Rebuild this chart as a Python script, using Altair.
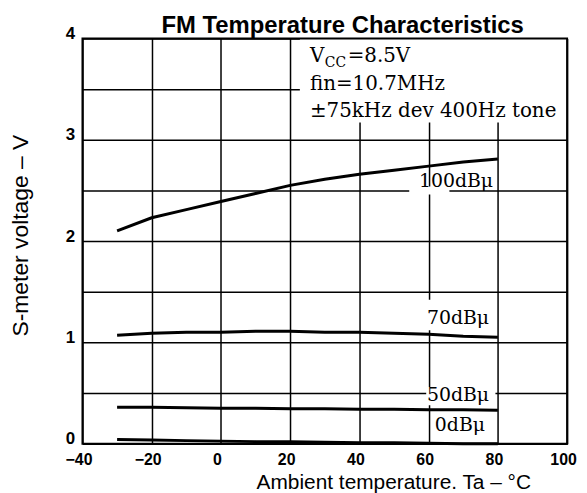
import altair as alt
import pandas as pd

# ---- data ----
temps = [-30, -20, -10, 0, 10, 20, 30, 40, 50, 60, 70, 80]
v_100 = [2.10, 2.23, 2.31, 2.39, 2.47, 2.55, 2.61, 2.66, 2.70, 2.74, 2.78, 2.81]
v_70 = [1.07, 1.09, 1.10, 1.10, 1.11, 1.11, 1.10, 1.10, 1.09, 1.08, 1.06, 1.05]
v_50 = [0.36, 0.36, 0.355, 0.35, 0.35, 0.345, 0.345, 0.34, 0.34, 0.335, 0.335, 0.33]
v_0 = [0.04, 0.035, 0.03, 0.025, 0.02, 0.02, 0.015, 0.01, 0.01, 0.005, 0.0, 0.0]

series_names = ["100dBμ", "70dBμ", "50dBμ", "0dBμ"]
label_x = [57.2, 59.5, 59.5, 61.8]
label_y = [2.53, 1.18, 0.42, 0.12]

x_ticks = [-40, -20, 0, 20, 40, 60, 80, 100]
y_grid = [0, 0.5, 1, 1.5, 2, 2.5, 3, 3.5, 4]

# white masks (areas where the scan shows no grid)
mask_x = [22.8, 54.4, 59.5, 59.3]
mask_x2 = [100, 66.0, 79.5, 79.3]
mask_y = [3.17, 2.46, 1.12, 0.38]
mask_y2 = [4.0, 2.54, 1.42, 0.56]

cond_x = 25.7
cond_y = [3.77, 3.49, 3.22]
cond_lines = ["=8.5V", "fin=10.7MHz", "±75kHz dev 400Hz tone"]

# ---- tables ----
rows = []
for name, vals in zip(series_names, [v_100, v_70, v_50, v_0]):
    for t, v in zip(temps, vals):
        rows.append({"series": name, "t": t, "v": v})
curves = pd.DataFrame(rows)
labels = pd.DataFrame({"text": series_names, "x": label_x, "y": label_y})
masks = pd.DataFrame({"x": mask_x, "x2": mask_x2, "y": mask_y, "y2": mask_y2})
border = pd.DataFrame({"x": [x_ticks[0]], "x2": [x_ticks[-1]], "y": [y_grid[0]], "y2": [y_grid[-1]]})
cond = pd.DataFrame({"x": [cond_x] * 3, "y": cond_y, "text": cond_lines})

xs = alt.Scale(domain=[-40, 100], nice=False, zero=False)
ys = alt.Scale(domain=[0, 4], nice=False, zero=False)

x_axis = alt.Axis(values=x_ticks, title="Ambient temperature. Ta – °C", grid=True,
                  gridColor="black", gridWidth=1.5, gridOpacity=1, ticks=False, domain=False,
                  labelFont="Liberation Sans", labelFontWeight="bold", labelFontSize=16,
                  labelColor="black", labelPadding=8, labelOffset=-4, labelFlush=False,
                  titleFont="Liberation Sans", titleFontWeight="normal", titleFontSize=21,
                  titleColor="black", titleX=313, titleY=45, titleBaseline="alphabetic")
y_axis = alt.Axis(values=y_grid, title="S-meter voltage – V", grid=True,
                  gridColor="black", gridWidth=1.5, gridOpacity=1, ticks=False, domain=False,
                  labelExpr="datum.value % 1 == 0 ? format(datum.value, 'd') : ''",
                  labelFont="Liberation Sans", labelFontWeight="bold", labelFontSize=17,
                  labelColor="black", labelPadding=8, labelOffset=-5, labelFlush=False,
                  titleFont="Liberation Sans", titleFontWeight="normal", titleFontSize=23,
                  titleColor="black", titleX=-62, titleY=198, titleBaseline="middle",
                  titleAngle=270, titleAlign="center")


def X(field):
    return alt.X(field, type="quantitative", scale=xs, axis=x_axis)


def Y(field):
    return alt.Y(field, type="quantitative", scale=ys, axis=y_axis)


SERIF = "DejaVu Serif"

mask_layer = alt.Chart(masks).mark_rect(fill="white", strokeWidth=0).encode(
    x=X("x"), x2="x2:Q", y=Y("y"), y2="y2:Q")

line_layer = alt.Chart(curves).mark_line(color="black", strokeWidth=3).encode(
    x=X("t"), y=Y("v"), detail="series:N")

border_layer = alt.Chart(border).mark_rect(filled=False, stroke="black", strokeWidth=2).encode(
    x=X("x"), x2="x2:Q", y=Y("y"), y2="y2:Q")

label_layer = alt.Chart(labels).mark_text(font=SERIF, fontSize=19, align="left",
                                          baseline="alphabetic", color="black").encode(
    x=X("x"), y=Y("y"), text="text:N")

cond_first = cond.iloc[[0]]
cond_rest = cond.iloc[1:]
vcc_v = alt.Chart(cond_first).mark_text(font=SERIF, fontSize=20, align="left",
                                        baseline="alphabetic", color="black").encode(
    x=X("x"), y=Y("y"), text=alt.value("V"))
vcc_sub = alt.Chart(cond_first).mark_text(font=SERIF, fontSize=14, align="left",
                                          baseline="alphabetic", color="black", dx=15, dy=5).encode(
    x=X("x"), y=Y("y"), text=alt.value("CC"))
vcc_rest = alt.Chart(cond_first).mark_text(font=SERIF, fontSize=20, align="left",
                                           baseline="alphabetic", color="black", dx=38).encode(
    x=X("x"), y=Y("y"), text="text:N")
cond_layer = alt.Chart(cond_rest).mark_text(font=SERIF, fontSize=20, align="left",
                                            baseline="alphabetic", color="black").encode(
    x=X("x"), y=Y("y"), text="text:N")

chart = alt.layer(mask_layer, line_layer, border_layer, label_layer,
                  vcc_v, vcc_sub, vcc_rest, cond_layer).properties(
    width=488, height=408,
    title=alt.TitleParams("FM Temperature Characteristics", font="Liberation Sans",
                          fontSize=24, fontWeight="bold", color="black",
                          anchor="middle", dx=18, offset=-13),
    autosize=alt.AutoSizeParams(type="none"),
    padding={"left": 75, "top": 29, "right": 12, "bottom": 50},
    background="white",
).configure_view(stroke=None)

chart.save("out.html", embed_options={"renderer": "svg", "actions": False})
